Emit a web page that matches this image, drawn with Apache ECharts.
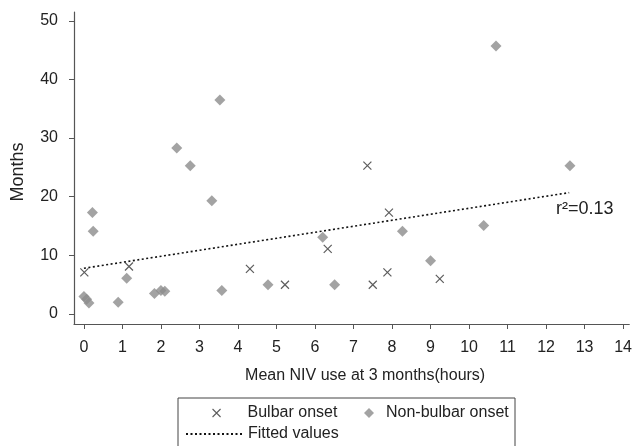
<!DOCTYPE html>
<html>
<head>
<meta charset="utf-8">
<script src="https://cdn.jsdelivr.net/npm/echarts@6/dist/echarts.min.js"></script>
<style>
  html, body { margin: 0; padding: 0; background: #fff; }
  #main { width: 635px; height: 446px; }
</style>
</head>
<body>
<div id="main"></div>
<script>
// values
const xTicks = [0, 1, 2, 3, 4, 5, 6, 7, 8, 9, 10, 11, 12, 13, 14];
const yTicks = [0, 10, 20, 30, 40, 50];

const bulbarX = [0.01, 1.17, 4.31, 5.22, 6.33, 7.36, 7.50, 7.88, 7.92, 9.24];
const bulbarY = [7.1, 8.1, 7.7, 5.0, 11.1, 25.3, 5.0, 7.1, 17.3, 6.0];

const nonBulbarX = [0.00, 0.07, 0.13, 0.22, 0.24, 0.89, 1.11, 1.83, 2.00, 2.10, 2.41, 2.76,
                    3.32, 3.53, 3.58, 4.78, 6.20, 6.51, 8.27, 9.00, 10.38, 10.70, 12.62];
const nonBulbarY = [3.0, 2.5, 1.9, 17.3, 14.1, 2.0, 6.1, 3.5, 4.0, 3.9, 28.3, 25.3,
                    19.3, 36.5, 4.0, 5.0, 13.1, 5.0, 14.1, 9.1, 15.1, 45.7, 25.3];

// fitted line end points
const fittedX = [0, 12.6];
const fittedY = [7.8, 20.7];

const font = "'Liberation Sans', Arial, sans-serif";
const crossPath = 'path://M0,0L10,10M0,10L10,0';

function pairs(xs, ys) {
    return xs.map((x, i) => [x, ys[i]]);
}

// legend text pushed right by an empty spacer
function spacedText(gap) {
    return {
        formatter: name => '{s|}' + name,
        textStyle: {
            fontFamily: font, fontSize: 16, color: '#222',
            rich: { s: { width: gap } }
        }
    };
}

const chart = echarts.init(document.getElementById('main'));

const option = {
    animation: false,
    backgroundColor: '#fff',
    grid: { left: 74, right: 3, top: 12, bottom: 122 },
    xAxis: {
        type: 'value',
        min: -0.258, max: 14.16,
        name: 'Mean NIV use at 3 months(hours)',
        nameLocation: 'middle',
        nameGap: 44,
        nameTextStyle: { fontFamily: font, fontSize: 16, color: '#222', padding: [0, 0, 0, 27] },
        axisLine: { onZero: false, lineStyle: { color: '#555', width: 1.2 } },
        axisTick: { show: true, length: 5, customValues: xTicks, lineStyle: { color: '#555' } },
        axisLabel: { customValues: xTicks, margin: 16, fontFamily: font, fontSize: 16, color: '#222' },
        splitLine: { show: false }
    },
    yAxis: {
        type: 'value',
        min: -1.7, max: 51.5,
        name: 'Months',
        nameLocation: 'middle',
        nameGap: 47,
        nameTextStyle: { fontFamily: font, fontSize: 18, color: '#222', padding: [0, 8, 0, 0] },
        axisLine: { show: true, onZero: false, lineStyle: { color: '#555', width: 1.2 } },
        axisTick: { show: true, length: 5, customValues: yTicks, lineStyle: { color: '#555' } },
        axisLabel: { customValues: yTicks, margin: 16, fontFamily: font, fontSize: 16, color: '#222' },
        splitLine: { show: false }
    },
    legend: [
        Object.assign({
            data: ['Bulbar onset'],
            left: 212, top: 405,
            itemWidth: 8, itemHeight: 8, itemGap: 0, padding: 0,
            itemStyle: { color: 'rgba(0,0,0,0)', borderColor: '#333', borderWidth: 1.1 }
        }, spacedText(22)),
        Object.assign({
            data: ['Non-bulbar onset'],
            left: 364, top: 405,
            itemWidth: 10, itemHeight: 10, itemGap: 0, padding: 0
        }, spacedText(7)),
        {
            data: ['Fitted values'],
            left: 185, top: 426,
            itemWidth: 57, itemHeight: 10, itemGap: 0, padding: 0,
            itemStyle: { opacity: 0 },
            textStyle: { fontFamily: font, fontSize: 16, color: '#222' }
        }
    ],
    graphic: [
        {
            type: 'rect',
            shape: { x: 178, y: 398, width: 337, height: 70 },
            style: { fill: 'none', stroke: '#444', lineWidth: 1 },
            z: 0
        },
        {
            type: 'text',
            left: 556, top: 200,
            style: { text: 'r²=0.13', font: '18px ' + font, fill: '#222' }
        }
    ],
    series: [
        {
            name: 'Bulbar onset',
            type: 'scatter',
            symbol: crossPath,
            symbolSize: 8,
            itemStyle: { color: 'rgba(0,0,0,0)', borderColor: '#333', borderWidth: 1.2 },
            data: pairs(bulbarX, bulbarY),
            z: 3
        },
        {
            name: 'Non-bulbar onset',
            type: 'scatter',
            symbol: 'diamond',
            symbolSize: 11,
            itemStyle: { color: '#8c8c8c' },
            data: pairs(nonBulbarX, nonBulbarY),
            z: 2
        },
        {
            name: 'Fitted values',
            type: 'line',
            showSymbol: false,
            symbol: 'none',
            lineStyle: { color: '#111', width: 1.6, type: [2, 2.5] },
            itemStyle: { color: '#111' },
            data: pairs(fittedX, fittedY),
            z: 4
        }
    ]
};

chart.setOption(option);
</script>
</body>
</html>
